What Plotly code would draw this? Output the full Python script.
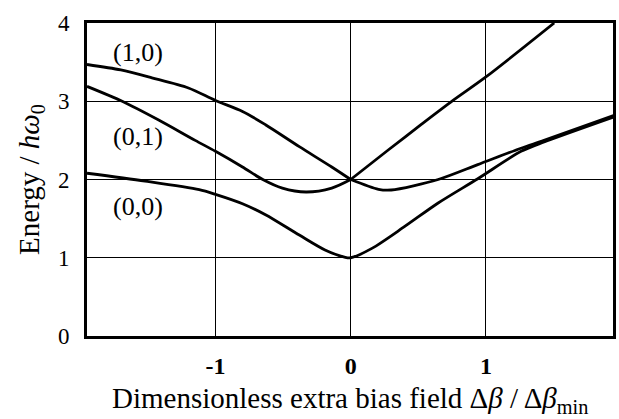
import plotly.graph_objects as go

# Curve (1,0)
x_10 = [-1.95, -1.7, -1.47, -1.2, -1.0, -0.8, -0.63, -0.38, -0.14, 0.0, 0.28, 0.52, 0.757, 1.0, 1.505]
y_10 = [3.47, 3.40, 3.30, 3.17, 3.01, 2.87, 2.70, 2.42, 2.16, 2.0, 2.38, 2.70, 3.01, 3.31, 4.0]

# Curve (0,1)
x_01 = [-1.95, -1.69, -1.42, -1.15, -1.0, -0.8, -0.65, -0.505, -0.33, -0.14, 0.0, 0.206, 0.30, 0.647, 0.94, 1.26, 1.43, 1.946]
y_01 = [3.19, 3.0, 2.76, 2.50, 2.36, 2.16, 2.0, 1.89, 1.84, 1.89, 2.0, 1.875, 1.866, 2.0, 2.19, 2.40, 2.50, 2.82]

# Curve (0,0)
x_00 = [-1.95, -1.52, -1.12, -1.0, -0.8, -0.63, -0.38, -0.19, -0.04, 0.0, 0.157, 0.40, 0.647, 0.94, 1.26, 1.43, 1.946]
y_00 = [2.08, 1.98, 1.87, 1.81, 1.69, 1.55, 1.29, 1.10, 1.006, 1.0, 1.12, 1.40, 1.70, 2.01, 2.36, 2.48, 2.80]

labels = ["(1,0)", "(0,1)", "(0,0)"]
label_x = [-1.57, -1.57, -1.57]
label_y = [3.62, 2.55, 1.65]

x_ticks = [-1, 0, 1]
x_tick_text = ["-1", "0", "1"]
y_ticks = [0, 1, 2, 3, 4]

x_title = "Dimensionless extra bias field Δ<i>β</i> / Δ<i>β</i><sub>min</sub>"
y_title = "Energy / <i>hω</i><sub>0</sub>"

FONT = "Liberation Serif, Times New Roman, serif"
LINE = dict(color="black", width=2.8, shape="spline", smoothing=0.8)


def split_at_zero(xs, ys):
    i = xs.index(0.0)
    return [(xs[:i + 1], ys[:i + 1]), (xs[i:], ys[i:])]


fig = go.Figure()
segments = split_at_zero(x_10, y_10) + split_at_zero(x_01, y_01) + [(x_00, y_00)]
for xs, ys in segments:
    fig.add_trace(go.Scatter(x=xs, y=ys, mode="lines", line=LINE,
                             showlegend=False, hoverinfo="skip"))

for t, lx, ly in zip(labels, label_x, label_y):
    fig.add_annotation(x=lx, y=ly, text=t, showarrow=False,
                       font=dict(family=FONT, size=26, color="black"))

# x-axis title placed below tick labels
fig.add_annotation(x=0.5, y=0, xref="paper", yref="paper", yshift=-64,
                   xanchor="center", yanchor="middle", text=x_title, showarrow=False,
                   font=dict(family=FONT, size=29, color="black"))

fig.update_xaxes(range=[-1.95, 1.94], tickvals=x_ticks,
                 ticktext=["<b>%s</b>" % t for t in x_tick_text],
                 showgrid=True, gridcolor="black", gridwidth=1.4, zeroline=False,
                 showline=True, linecolor="black", linewidth=3, mirror=True,
                 ticks="", ticklabelstandoff=6,
                 tickfont=dict(family=FONT, size=24, color="black"))
fig.update_yaxes(range=[0, 4], tickvals=y_ticks,
                 showgrid=True, gridcolor="black", gridwidth=1.4, zeroline=False,
                 showline=True, linecolor="black", linewidth=3, mirror=True,
                 ticks="", ticklabelstandoff=10,
                 tickfont=dict(family=FONT, size=23, color="black"),
                 title=dict(text=y_title,
                            font=dict(family=FONT, size=29, color="black"), standoff=10))

fig.update_layout(width=619, height=419, margin=dict(l=87, r=3, t=23, b=83),
                  plot_bgcolor="white", paper_bgcolor="white")

fig.write_html("out.html", config={"displayModeBar": False},
               post_script="document.body.style.margin='0';document.body.style.overflow='hidden';")
